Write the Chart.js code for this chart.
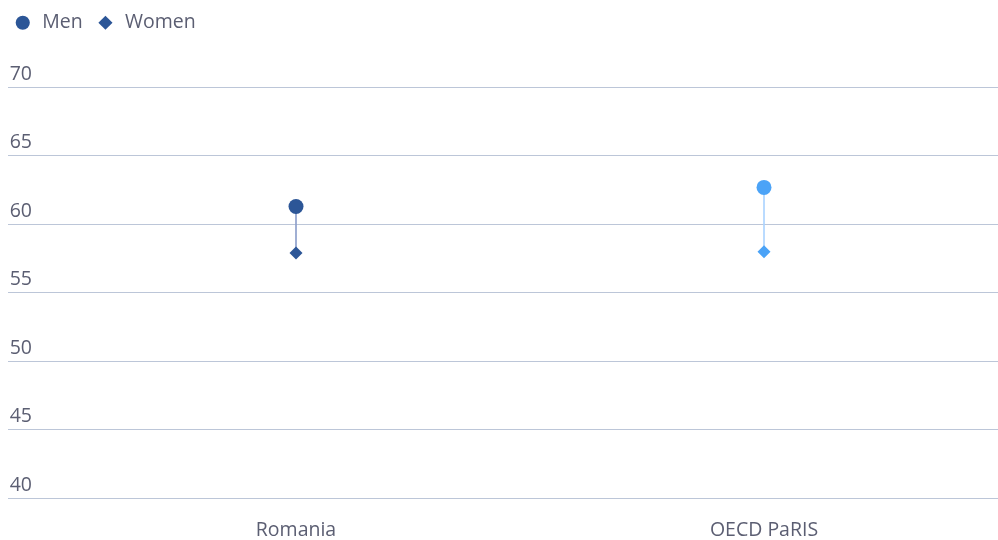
<!DOCTYPE html>
<html>
<head>
<meta charset="utf-8">
<script src="https://cdn.jsdelivr.net/npm/chart.js@4"></script>
<style>
  html, body { margin: 0; padding: 0; background: #fff; }
  #wrap { width: 998px; height: 540px; }
</style>
</head>
<body>
<div id="wrap"><canvas id="myChart"></canvas></div>
<script>
// Data
const countries = ['Romania', 'OECD PaRIS'];
const men = [61.3, 62.7];
const women = [57.9, 58.0];
const yTicks = [40, 45, 50, 55, 60, 65, 70];

const pointColors = ['#2c5697', '#4ba3f7'];
const stemColors = ['#8d9fcb', '#acd4ff'];

const ctx = document.getElementById('myChart').getContext('2d');

Chart.defaults.font.family = '"Open Sans", "Noto Sans", sans-serif';
Chart.defaults.font.size = 19.5;
Chart.defaults.color = '#5b5e72';

// give the legend some room below it
const legendSpace = {
  id: 'legendSpace',
  afterInit(chart) {
    const fit = chart.legend.fit;
    chart.legend.fit = function () {
      fit.call(this);
      this.height += 45;
    };
  }
};

const myChart = new Chart(ctx, {
  type: 'bar',
  data: {
    labels: countries,
    datasets: [
      {
        type: 'bar',
        label: 'stem',
        data: men.map((m, i) => [women[i], m]),
        backgroundColor: stemColors,
        barThickness: 1,
        order: 3
      },
      {
        type: 'line',
        label: 'Men',
        data: men,
        showLine: false,
        pointStyle: 'circle',
        pointRadius: 7.5,
        pointHoverRadius: 7.5,
        backgroundColor: pointColors,
        borderColor: pointColors,
        borderWidth: 0,
        order: 1
      },
      {
        type: 'line',
        label: 'Women',
        data: women,
        showLine: false,
        pointStyle: 'rectRot',
        pointRadius: 6.5,
        pointHoverRadius: 6.5,
        backgroundColor: pointColors,
        borderColor: pointColors,
        borderWidth: 0,
        order: 2
      }
    ]
  },
  plugins: [legendSpace],
  options: {
    responsive: true,
    maintainAspectRatio: false,
    animation: false,
    layout: { autoPadding: false, padding: { left: 0, right: 0, top: 0, bottom: 0 } },
    plugins: {
      tooltip: { enabled: false },
      legend: {
        position: 'top',
        align: 'start',
        labels: {
          usePointStyle: true,
          boxWidth: 20,
          boxHeight: 10,
          padding: 13,
          color: '#5b5e72',
          filter: item => item.text !== 'stem',
          generateLabels: chart => chart.data.datasets.map((ds, i) => ({
            text: ds.label,
            fillStyle: pointColors[0],
            strokeStyle: pointColors[0],
            lineWidth: 0,
            pointStyle: ds.pointStyle,
            datasetIndex: i,
            hidden: false,
            fontColor: '#5b5e72'
          }))
        }
      }
    },
    scales: {
      x: {
        afterFit: scale => { scale.height = 42; },
        grid: { display: false, drawTicks: false },
        border: { display: false },
        ticks: { padding: 21 }
      },
      y: {
        min: 40,
        max: 70,
        afterFit: scale => { scale.width = 62; },
        afterBuildTicks: scale => { scale.ticks = yTicks.map(v => ({ value: v })); },
        border: { display: false },
        grid: { color: '#bcc6d8', tickLength: 54, tickColor: '#bcc6d8' },
        ticks: {
          crossAlign: 'near',
          labelOffset: -13,
          padding: -24
        }
      }
    }
  }
});
</script>
</body>
</html>
